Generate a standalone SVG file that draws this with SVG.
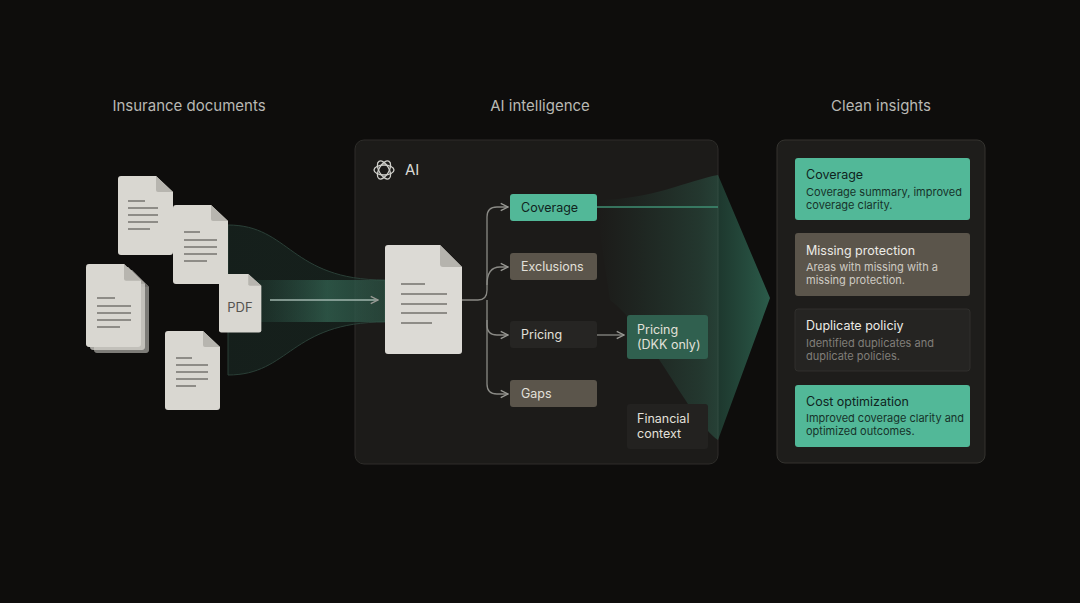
<svg xmlns="http://www.w3.org/2000/svg" width="1080" height="603" viewBox="0 0 1080 603">
<defs>
<style>
.t{font-family:Inter,"Liberation Sans",sans-serif}
.h{font-size:15px;fill:#b9b9b4}
.doc{fill:#d9d7d1}
.fold{fill:#b7b5af}
.ln{stroke:#8e8c87;stroke-width:2}
.lbl{font-size:12.5px}
.card-t{font-size:12.5px}
.card-s{font-size:11px}
.conn{fill:none;stroke:#8a8a85;stroke-width:1.3}
</style>
<linearGradient id="band" x1="0" x2="1" y1="0" y2="0">
<stop offset="0" stop-color="#2f5a4c" stop-opacity="0.1"/>
<stop offset="0.6" stop-color="#3d7a64" stop-opacity="0.55"/>
<stop offset="1" stop-color="#3d7a64" stop-opacity="0.35"/>
</linearGradient>
<linearGradient id="fan" x1="0" x2="1" y1="0" y2="0">
<stop offset="0" stop-color="#2e6b56" stop-opacity="0"/>
<stop offset="0.6" stop-color="#357a62" stop-opacity="0.3"/>
<stop offset="1" stop-color="#3f8f73" stop-opacity="0.6"/>
</linearGradient>
<linearGradient id="funnel" x1="0" x2="1">
<stop offset="0" stop-color="#16211d" stop-opacity="0.9"/>
<stop offset="1" stop-color="#1a2a24" stop-opacity="0.6"/>
</linearGradient>
<marker id="ar" viewBox="0 0 10 10" refX="9" refY="5" markerWidth="7" markerHeight="7" orient="auto"><path d="M1 1L9 5L1 9" fill="none" stroke="#9a9a95" stroke-width="1.5"/></marker>
<g id="docshape">
<path class="doc" d="M0 3Q0 0 3 0H38L55 16V76Q55 79 52 79H3Q0 79 0 76Z"/>
<path class="fold" d="M38 0V14Q38 16 40 16H55Z"/>
</g>
</defs>
<rect width="1080" height="603" fill="#0e0d0c"/>
<text class="t h" x="189" y="111" text-anchor="middle">Insurance documents</text>
<text class="t h" x="540" y="111" text-anchor="middle">AI intelligence</text>
<text class="t h" x="881" y="111" text-anchor="middle">Clean insights</text>

<g id="ai-panel">
<rect x="355" y="140" width="363" height="324" rx="9" fill="#1c1b19" stroke="#2e2d2a"/>
<g fill="none" stroke="#cfcfca" stroke-width="1.3">
<ellipse cx="384" cy="170" rx="10" ry="5" transform="rotate(0 384 170)"/>
<ellipse cx="384" cy="170" rx="10" ry="5" transform="rotate(60 384 170)"/>
<ellipse cx="384" cy="170" rx="10" ry="5" transform="rotate(120 384 170)"/>
</g>
<text class="t" x="405" y="175" font-size="15" fill="#d8d8d3">AI</text>
</g>

<g id="connectors">
<path d="M228 225C290 225 290 280 385 280V322C290 322 290 375 228 375Z" fill="url(#funnel)" stroke="#2a3f37" stroke-width="1"/>
<rect x="240" y="280" width="145" height="42" fill="url(#band)"/>
<path d="M597 200C650 200 690 180 718 175L770 298L718 440C690 420 650 330 610 300L597 214Z" fill="url(#fan)"/>
<path d="M597 207H718" stroke="#3f8f73" stroke-width="1.5" fill="none"/>
<line x1="270" y1="300" x2="378" y2="300" stroke="#9fb5ac" stroke-width="1.3" marker-end="url(#ar)"/>
<path class="conn" d="M462 300H478Q487 300 487 290V217Q487 207 497 207H508" marker-end="url(#ar)"/>
<path class="conn" d="M487 285Q487 267 500 267H508" marker-end="url(#ar)"/>
<path class="conn" d="M487 300V325Q487 335 497 335H508" marker-end="url(#ar)"/>
<path class="conn" d="M487 320V384Q487 394 497 394H508" marker-end="url(#ar)"/>
<path class="conn" d="M597 335H624" marker-end="url(#ar)"/>
</g>

<g id="center-doc">
<path d="M385 248Q385 245 388 245H440L462 267V351Q462 354 459 354H388Q385 354 385 351Z" fill="#dcdad5"/>
<path d="M440 245V264Q440 267 443 267H462Z" fill="#b5b3ad"/>
<g class="ln"><line x1="401" y1="284" x2="425" y2="284"/><line x1="401" y1="294" x2="447" y2="294"/><line x1="401" y1="304" x2="447" y2="304"/><line x1="401" y1="313" x2="447" y2="313"/><line x1="401" y1="323" x2="432" y2="323"/></g>
</g>

<g id="n-coverage"><rect x="510" y="194" width="87" height="27" rx="3" fill="#52b898"/><text class="t lbl" x="521" y="212" fill="#10241d">Coverage</text></g>
<g id="n-exclusions"><rect x="510" y="253" width="87" height="27" rx="3" fill="#5b554b"/><text class="t lbl" x="521" y="271" fill="#e2e0da">Exclusions</text></g>
<g id="n-pricing"><rect x="510" y="321" width="87" height="27" rx="3" fill="#262523"/><text class="t lbl" x="521" y="339" fill="#e2e0da">Pricing</text></g>
<g id="n-gaps"><rect x="510" y="380" width="87" height="27" rx="3" fill="#5b554b"/><text class="t lbl" x="521" y="398" fill="#e2e0da">Gaps</text></g>
<g id="n-pricing-dkk"><rect x="627" y="315" width="81" height="44" rx="3" fill="#30604f"/><text class="t lbl" x="637" y="334" fill="#e2e0da">Pricing</text><text class="t lbl" x="637" y="349" fill="#e2e0da">(DKK only)</text></g>
<g id="n-financial"><rect x="627" y="404" width="81" height="45" rx="3" fill="#232220"/><text class="t lbl" x="637" y="423" fill="#e2e0da">Financial</text><text class="t lbl" x="637" y="438" fill="#e2e0da">context</text></g>

<g id="docs">
<use href="#docshape" x="118" y="176"/>
<g class="ln" stroke-width="1.6"><line x1="128" y1="201" x2="145" y2="201"/><line x1="128" y1="208" x2="158" y2="208"/><line x1="128" y1="215" x2="158" y2="215"/><line x1="128" y1="222" x2="158" y2="222"/><line x1="128" y1="229" x2="150" y2="229"/></g>
<g transform="translate(173,205)"><use href="#docshape"/></g>
<g class="ln" stroke-width="1.6"><line x1="184" y1="232" x2="200" y2="232"/><line x1="184" y1="240" x2="217" y2="240"/><line x1="184" y1="247" x2="217" y2="247"/><line x1="184" y1="254" x2="217" y2="254"/><line x1="184" y1="261" x2="207" y2="261"/></g>
<g transform="translate(94,270) scale(1,1.05)"><use href="#docshape" opacity="0.55"/></g>
<g transform="translate(90,267) scale(1,1.05)"><use href="#docshape" opacity="0.75"/></g>
<g transform="translate(86,264) scale(1,1.05)"><use href="#docshape"/></g>
<g class="ln" stroke-width="1.6"><line x1="97" y1="298" x2="115" y2="298"/><line x1="97" y1="306" x2="131" y2="306"/><line x1="97" y1="313" x2="131" y2="313"/><line x1="97" y1="320" x2="131" y2="320"/><line x1="97" y1="327" x2="120" y2="327"/></g>
<g transform="translate(219,274) scale(0.77,0.74)"><use href="#docshape"/></g>
<text class="t" x="240" y="312" font-size="13" fill="#55534f" text-anchor="middle">PDF</text>
<g transform="translate(165,331)"><use href="#docshape"/></g>
<g class="ln" stroke-width="1.6"><line x1="176" y1="358" x2="192" y2="358"/><line x1="176" y1="365" x2="208" y2="365"/><line x1="176" y1="372" x2="208" y2="372"/><line x1="176" y1="379" x2="208" y2="379"/><line x1="176" y1="386" x2="196" y2="386"/></g>
</g>

<g id="insights-panel">
<rect x="777" y="140" width="208" height="323" rx="8" fill="#1e1d1b" stroke="#34332f"/>
</g>
<g id="c-coverage"><rect x="795" y="158" width="175" height="62" rx="3" fill="#52b898"/><text class="t card-t" x="806" y="179" fill="#0f241d">Coverage</text><text class="t card-s" x="806" y="196" fill="#17332a">Coverage summary, improved</text><text class="t card-s" x="806" y="209" fill="#17332a">coverage clarity.</text></g>
<g id="c-missing"><rect x="795" y="233" width="175" height="63" rx="3" fill="#5b554b"/><text class="t card-t" x="806" y="255" fill="#ecebe6">Missing protection</text><text class="t card-s" x="806" y="271" fill="#cfcbc3">Areas with missing with a</text><text class="t card-s" x="806" y="284" fill="#cfcbc3">missing protection.</text></g>
<g id="c-duplicate"><rect x="795" y="309" width="175" height="62" rx="3" fill="#252422" stroke="#302f2c"/><text class="t card-t" x="806" y="330" fill="#ecebe6">Duplicate policiy</text><text class="t card-s" x="806" y="347" fill="#807e79">Identified duplicates and</text><text class="t card-s" x="806" y="360" fill="#807e79">duplicate policies.</text></g>
<g id="c-cost"><rect x="795" y="385" width="175" height="62" rx="3" fill="#52b898"/><text class="t card-t" x="806" y="406" fill="#0f241d">Cost optimization</text><text class="t card-s" x="806" y="422" fill="#17332a">Improved coverage clarity and</text><text class="t card-s" x="806" y="435" fill="#17332a">optimized outcomes.</text></g>
</svg>
